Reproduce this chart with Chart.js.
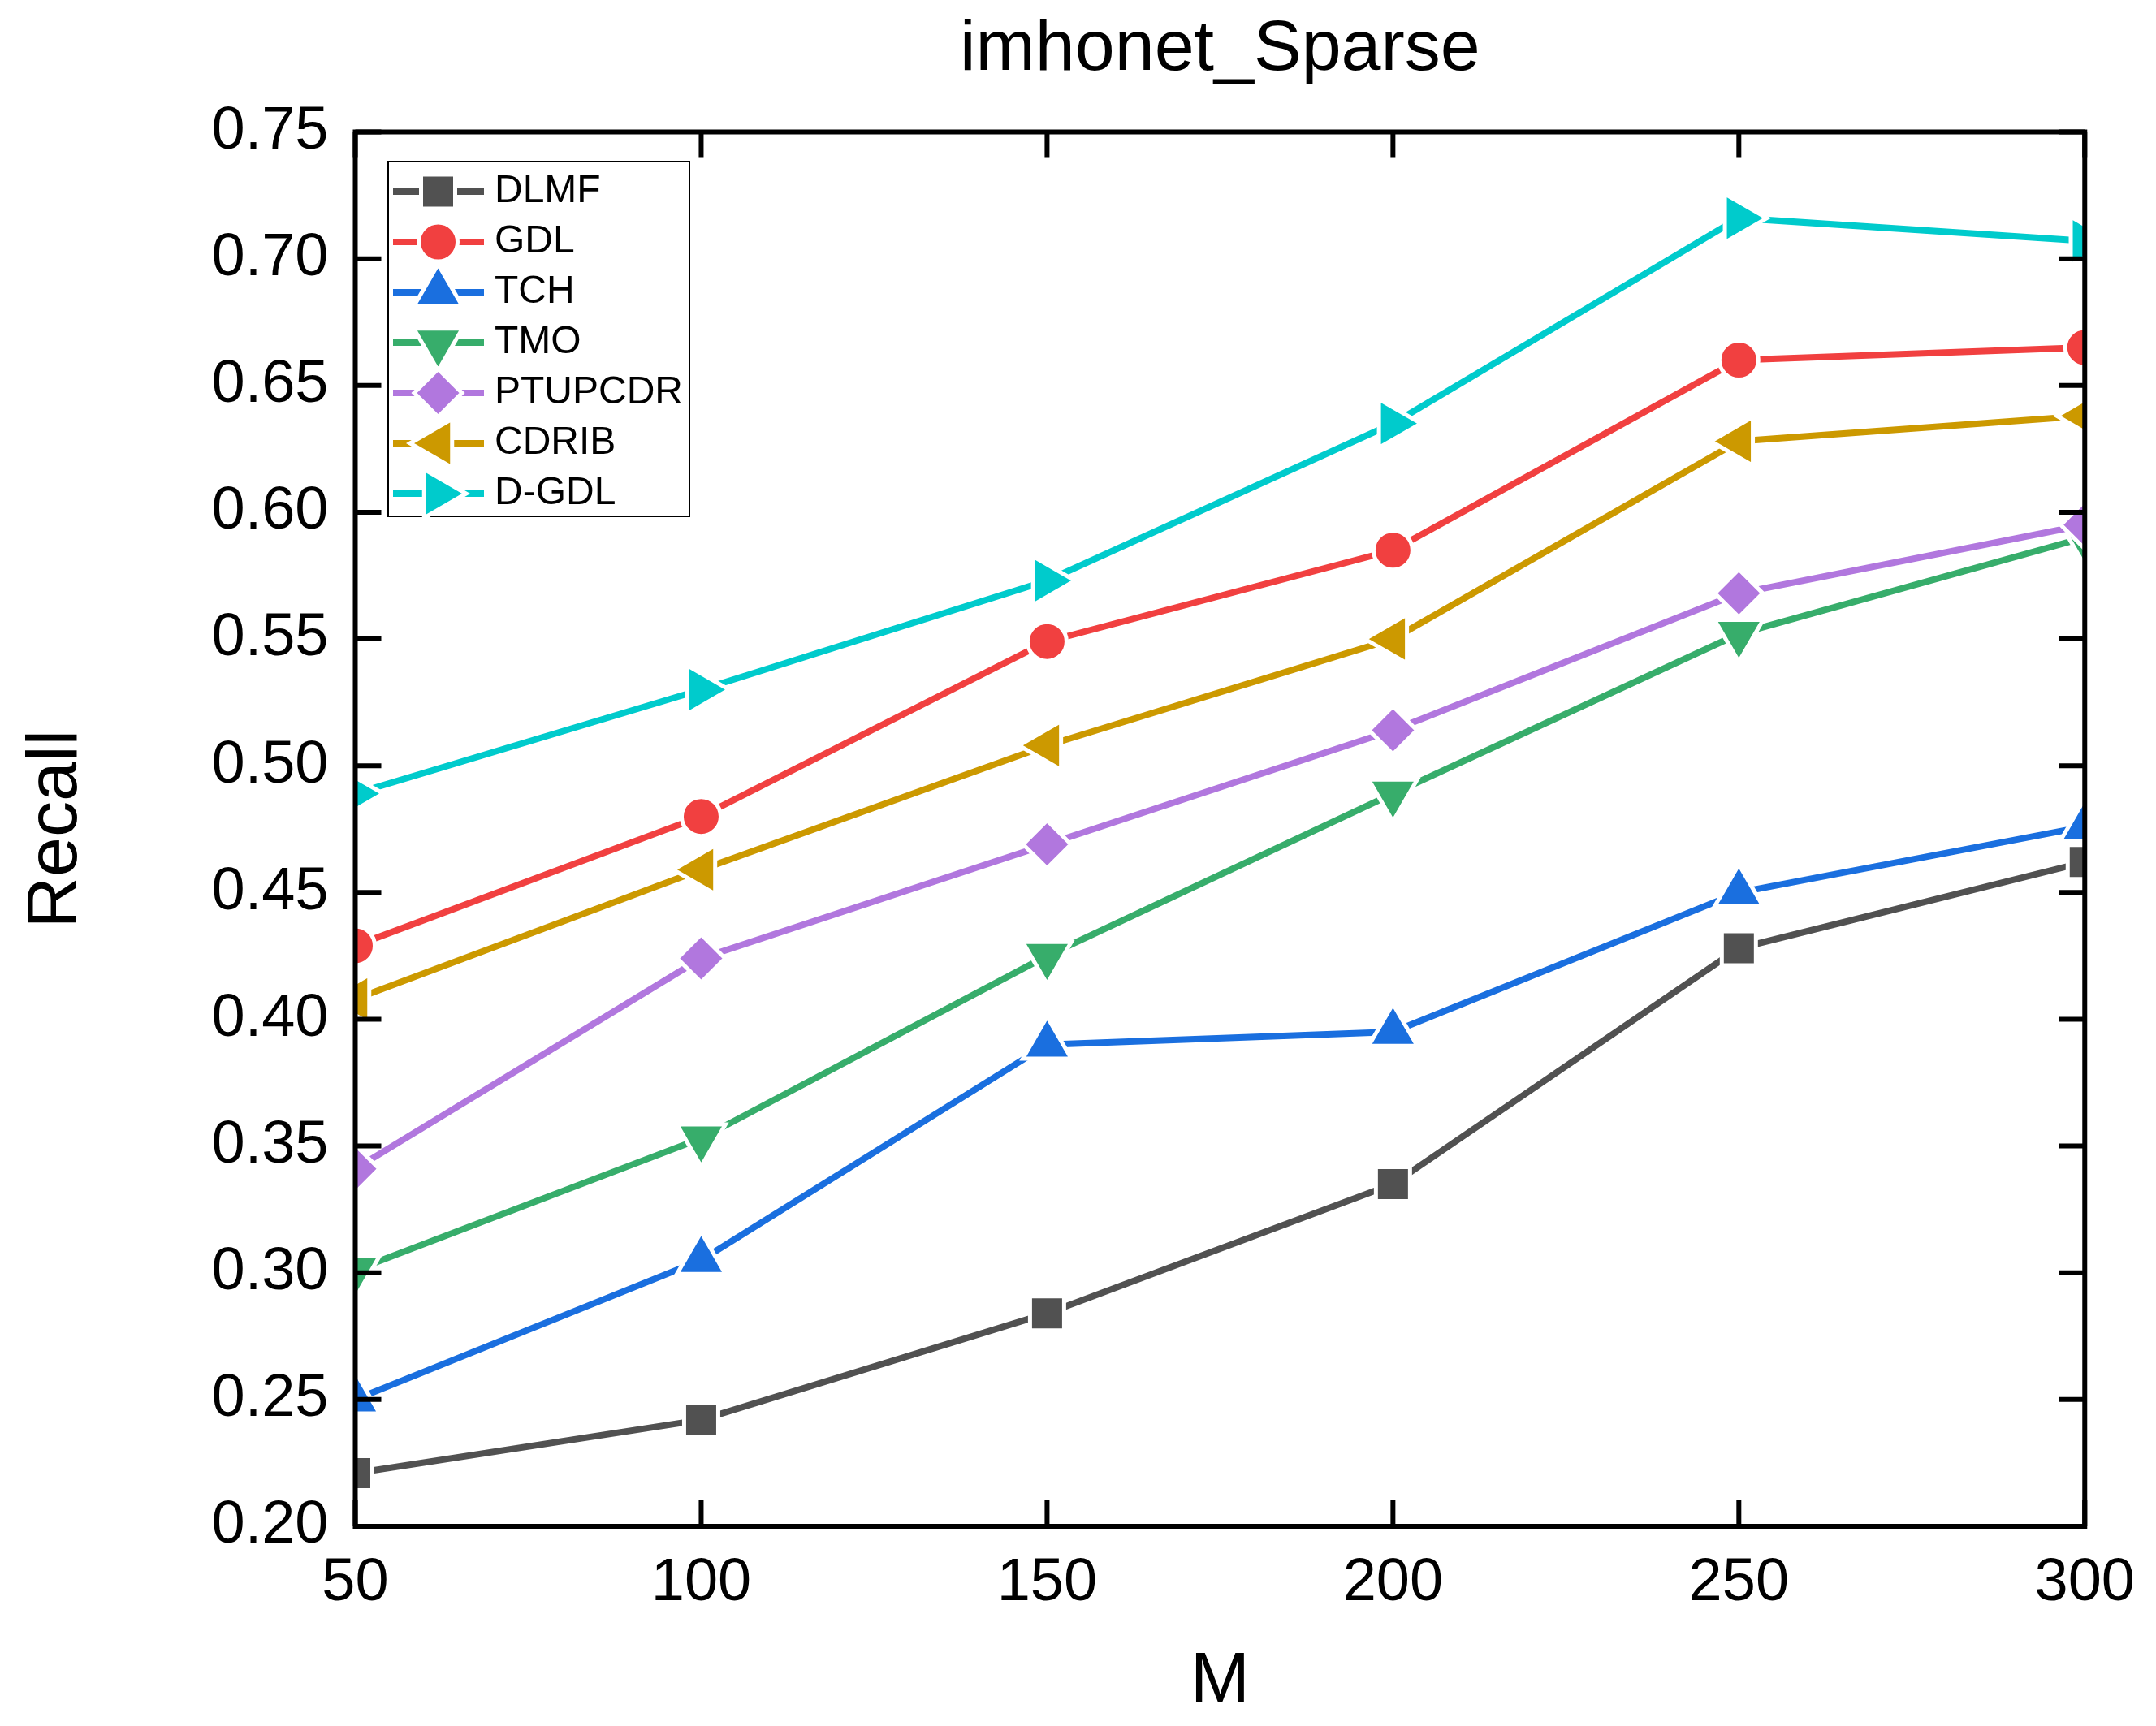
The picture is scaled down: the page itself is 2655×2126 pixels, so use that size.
<!DOCTYPE html>
<html>
<head>
<meta charset="utf-8">
<title>imhonet_Sparse</title>
<script src="https://cdn.jsdelivr.net/npm/chart.js@4.4.1/dist/chart.umd.min.js"></script>
<style>
  html, body { margin: 0; padding: 0; background: #fff; }
  #chartWrap { width: 2655px; height: 2126px; }
</style>
</head>
<body>
<div id="chartWrap"><canvas id="recallChart" width="2655" height="2126"></canvas></div>
<script>
// ===== DATA =====
const mValues = [50, 100, 150, 200, 250, 300];
const yTickValues = [0.20, 0.25, 0.30, 0.35, 0.40, 0.45, 0.50, 0.55, 0.60, 0.65, 0.70, 0.75];

const seriesNames = ['DLMF', 'GDL', 'TCH', 'TMO', 'PTUPCDR', 'CDRIB', 'D-GDL'];
const dlmf    = [0.221, 0.242, 0.284, 0.335, 0.428, 0.462];
const gdl     = [0.429, 0.480, 0.549, 0.585, 0.660, 0.665];
const tch     = [0.250, 0.305, 0.390, 0.395, 0.450, 0.476];
const tmo     = [0.301, 0.353, 0.425, 0.489, 0.552, 0.590];
const ptupcdr = [0.341, 0.424, 0.469, 0.514, 0.568, 0.595];
const cdrib   = [0.408, 0.459, 0.508, 0.550, 0.628, 0.638];
const dgdl    = [0.489, 0.530, 0.573, 0.635, 0.716, 0.707];
const seriesValues = [dlmf, gdl, tch, tmo, ptupcdr, cdrib, dgdl];

const chartTitle = 'imhonet_Sparse';

// ===== STYLE =====
const FONT = '"Liberation Sans", Arial, sans-serif';
const COLORS = ['#515151', '#F14040', '#1A6FDF', '#37AD6B', '#B177DE', '#CC9900', '#00CBCC'];
const GAP = 5;      // white ring round each symbol, gives the line/symbol gap
const MARKERS = [
  { style: 'rect',     rot: 0,   r: 29.7 },
  { style: 'circle',   rot: 0,   r: 24 },
  { style: 'triangle', rot: 0,   r: 34.5 },
  { style: 'triangle', rot: 180, r: 34.5 },
  { style: 'rectRot',  rot: 0,   r: 29.5 },
  { style: 'triangle', rot: 270, r: 34.5 },
  { style: 'triangle', rot: 90,  r: 34.5 },
];
const TICK_LEN = 32;
const AXIS_W = 6;

function buildDatasets() {
  return seriesNames.map((name, i) => ({
    label: name,
    data: mValues.map((m, j) => ({ x: m, y: seriesValues[i][j] })),
    borderColor: COLORS[i],
    borderWidth: 8,
    backgroundColor: COLORS[i],
    pointBackgroundColor: COLORS[i],
    pointBorderColor: '#fff',
    pointBorderWidth: GAP,
    pointStyle: MARKERS[i].style,
    pointRotation: MARKERS[i].rot,
    pointRadius: MARKERS[i].r,
    pointHoverRadius: MARKERS[i].r,
    tension: 0,
    clip: 0,
    order: seriesNames.length - i,   // later series drawn on top
  }));
}

// title centred over the plot area rather than the whole canvas
const plotTitle = {
  id: 'plotTitle',
  afterDraw(chart) {
    const { ctx, chartArea: a } = chart;
    ctx.save();
    ctx.fillStyle = '#000';
    ctx.font = '88px ' + FONT;
    ctx.textAlign = 'center';
    ctx.textBaseline = 'middle';
    ctx.fillText(chartTitle, (a.left + a.right) / 2, a.top - 100.8);
    ctx.restore();
  }
};

// frame round the plot plus inward ticks on all four sides
const frameTicks = {
  id: 'frameTicks',
  afterDraw(chart) {
    const { ctx, chartArea: a, scales: { x, y } } = chart;
    ctx.save();
    ctx.strokeStyle = '#000';
    ctx.lineWidth = AXIS_W;
    ctx.lineCap = 'butt';
    ctx.beginPath();
    x.ticks.forEach(t => {
      const px = x.getPixelForValue(t.value);
      ctx.moveTo(px, a.bottom); ctx.lineTo(px, a.bottom - TICK_LEN);
      ctx.moveTo(px, a.top); ctx.lineTo(px, a.top + TICK_LEN);
    });
    y.ticks.forEach(t => {
      const py = y.getPixelForValue(t.value);
      ctx.moveTo(a.left, py); ctx.lineTo(a.left + TICK_LEN, py);
      ctx.moveTo(a.right, py); ctx.lineTo(a.right - TICK_LEN, py);
    });
    ctx.stroke();
    ctx.lineJoin = 'miter';
    ctx.strokeRect(a.left, a.top, a.right - a.left, a.bottom - a.top);
    ctx.restore();
  }
};

// legend box sitting inside the plot, top left
const insideLegend = {
  id: 'insideLegend',
  afterDatasetsDraw(chart) {
    const { ctx, chartArea: a } = chart;
    const left = a.left + 40.5, top = a.top + 36.5;
    const w = 371, h = 437, rowH = 62;
    ctx.save();
    ctx.lineWidth = 2;
    ctx.strokeStyle = '#000';
    ctx.strokeRect(left, top, w, h);
    chart.data.datasets.forEach((ds, i) => {
      const yRow = top + 37 + i * rowH;
      ctx.strokeStyle = ds.borderColor;
      ctx.lineWidth = ds.borderWidth;
      ctx.beginPath();
      ctx.moveTo(left + 6, yRow);
      ctx.lineTo(left + 118, yRow);
      ctx.stroke();
      ctx.fillStyle = ds.pointBackgroundColor;
      ctx.strokeStyle = '#fff';
      ctx.lineWidth = ds.pointBorderWidth;
      Chart.helpers.drawPoint(ctx, {
        pointStyle: ds.pointStyle,
        rotation: ds.pointRotation,
        radius: ds.pointRadius,
        borderWidth: ds.pointBorderWidth
      }, left + 61.5, yRow);
      ctx.fillStyle = '#000';
      ctx.font = '48px ' + FONT;
      ctx.textAlign = 'left';
      ctx.textBaseline = 'middle';
      ctx.fillText(ds.label, left + 131, yRow);
    });
    ctx.restore();
  }
};

function renderChart() {
  const ctx = document.getElementById('recallChart').getContext('2d');
  Chart.defaults.color = '#000';
  Chart.defaults.font.family = FONT;

  new Chart(ctx, {
    type: 'line',
    data: { datasets: buildDatasets() },
    options: {
      responsive: false,
      devicePixelRatio: 1,
      animation: false,
      events: [],
      layout: { padding: { top: 162.5, right: 85, bottom: 0, left: 0 } },
      plugins: {
        legend: { display: false },
        tooltip: { enabled: false },
        title: { display: false }
      },
      scales: {
        x: {
          type: 'linear',
          min: mValues[0],
          max: mValues[mValues.length - 1],
          afterBuildTicks: scale => { scale.ticks = mValues.map(v => ({ value: v })); },
          afterFit: scale => { scale.height = 246; },
          grid: { display: false, drawTicks: false, tickLength: 0 },
          border: { display: false },
          ticks: { font: { size: 74 }, color: '#000', padding: 26, maxRotation: 0, autoSkip: false },
          title: { display: true, text: 'M', color: '#000', font: { size: 88 }, padding: { top: 0, bottom: 1 } }
        },
        y: {
          type: 'linear',
          min: yTickValues[0],
          max: yTickValues[yTickValues.length - 1],
          afterBuildTicks: scale => { scale.ticks = yTickValues.map(v => ({ value: v })); },
          afterFit: scale => { scale.width = 437.5; },
          grid: { display: false, drawTicks: false, tickLength: 0 },
          border: { display: false },
          ticks: { font: { size: 74 }, color: '#000', padding: 33, autoSkip: false, callback: v => v.toFixed(2) },
          title: { display: true, text: 'Recall', color: '#000', font: { size: 88 }, padding: { top: 17, bottom: 0 } }
        }
      }
    },
    plugins: [insideLegend, frameTicks, plotTitle]
  });
}

document.addEventListener('DOMContentLoaded', renderChart);
</script>
</body>
</html>
